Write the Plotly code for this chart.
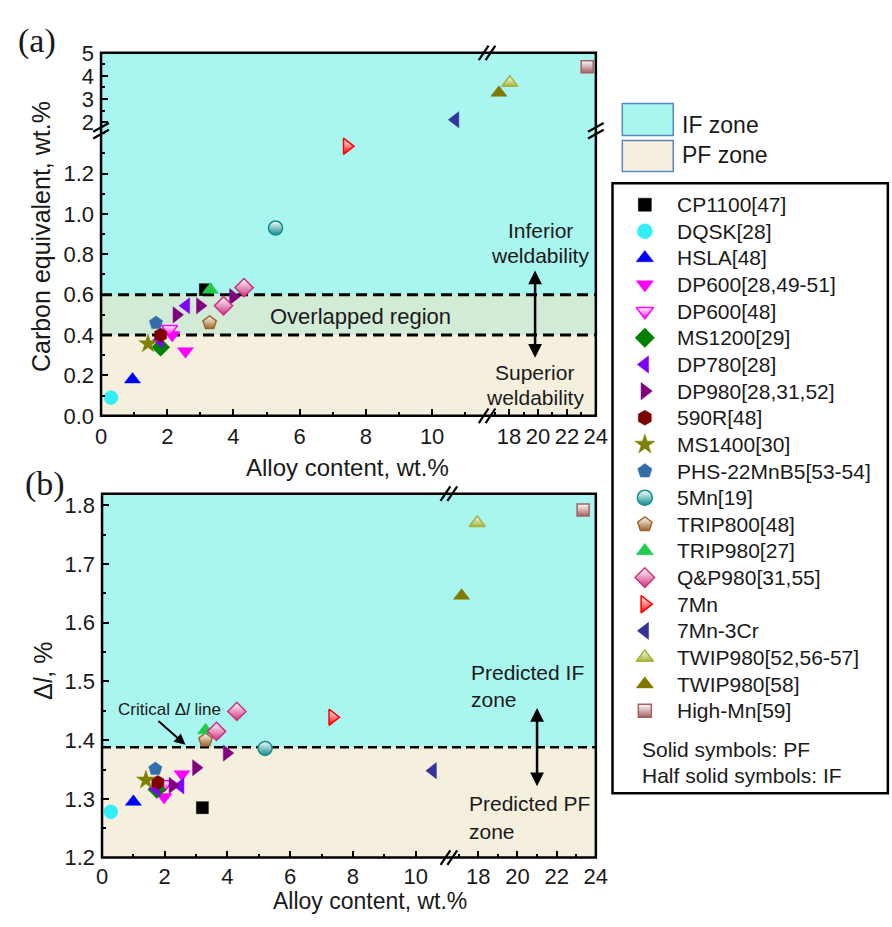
import plotly.graph_objects as go

W, H = 892, 927
FONT = "Liberation Sans, Arial, sans-serif"
SERIF = "Liberation Serif, Times New Roman, serif"
TXT = "#1a1a1a"

# ---------------- data ----------------
series_names = ["CP1100[47]", "DQSK[28]", "HSLA[48]", "DP600[28,49-51]", "DP600[48]",
                "MS1200[29]", "DP780[28]", "DP980[28,31,52]", "590R[48]", "MS1400[30]",
                "PHS-22MnB5[53-54]", "5Mn[19]", "TRIP800[48]", "TRIP980[27]", "Q&P980[31,55]",
                "7Mn", "7Mn-3Cr", "TWIP980[52,56-57]", "TWIP980[58]", "High-Mn[59]"]

# panel (a): alloy content (wt.%) vs carbon equivalent (wt.%)
alloy_a = [[3.15], [0.30], [0.95], [2.15, 2.55], [2.07], [1.80], [1.77, 2.57],
           [2.28, 2.99, 3.99], [1.80], [1.42], [1.66], [5.27], [3.28], [3.30],
           [3.70, 4.32], [7.43], [10.70], [18.05], [17.30], [23.40]]
ce_a = [[0.625], [0.09], [0.18], [0.40, 0.32], [0.43], [0.34], [0.375, 0.545],
        [0.50, 0.545, 0.59], [0.40], [0.357], [0.46], [0.93], [0.46], [0.625],
        [0.545, 0.635], [1.335], [2.10], [3.70], [3.27], [4.40]]

# panel (b): alloy content (wt.%) vs delta l (%)
alloy_b = [[3.20], [0.28], [1.00], [1.98, 2.55], [2.00], [1.75], [1.72, 2.50],
           [2.25, 3.00, 3.98], [1.78], [1.40], [1.70], [5.20], [3.30], [3.30],
           [3.65, 4.30], [7.35], [10.55], [17.95], [17.15], [23.35]]
dl_b = [[1.285], [1.278], [1.295], [1.303, 1.342], [1.325], [1.316], [1.318, 1.322],
        [1.323, 1.353, 1.378], [1.328], [1.332], [1.351], [1.386], [1.400], [1.417],
        [1.415, 1.449], [1.439], [1.348], [1.770], [1.646], [1.792]]

ce_pf_limit = 0.4
ce_if_limit = 0.6
dl_critical = 1.388

x_ticks_low = [0, 2, 4, 6, 8, 10]
x_ticks_high = [18, 20, 22, 24]
ce_ticks_low = [0.0, 0.2, 0.4, 0.6, 0.8, 1.0, 1.2]
ce_ticks_high = [2, 3, 4, 5]
dl_ticks = [1.2, 1.3, 1.4, 1.5, 1.6, 1.7, 1.8]

# ---------------- styles ----------------
symbols = ["square", "circle", "triangle-up", "triangle-down", "triangle-down", "diamond",
           "triangle-left", "triangle-right", "hexagon", "star", "pentagon", "circle",
           "pentagon", "triangle-up", "diamond", "triangle-right", "triangle-left",
           "triangle-up", "triangle-up", "square"]
colors = ["#000000", "#33EEF6", "#0000FF", "#FF00FF", "#FF00FF", "#008000", "#8000FF",
          "#800080", "#800000", "#808000", "#336EAA", "#128C8C", "#A0662A", "#1FCC4A",
          "#CC3380", "#FF0000", "#333399", "#A6B43A", "#807800", "#A66060"]
half = [False, False, False, False, True, False, False, False, False, False, False, True,
        True, False, True, True, False, True, False, True]

IF_COLOR = "#A9F5EF"
PF_COLOR = "#F5F0DE"
OV_COLOR = "#D1EBD6"


def fx(px):
    return px / W


def fy(py):
    return 1 - py / H


def mstyle(i, size):
    c = colors[i]
    s = size - 2 if symbols[i] == "square" else size
    if half[i]:
        return dict(symbol=symbols[i], size=s, color="white",
                    gradient=dict(type="vertical", color=c),
                    line=dict(color=c, width=1.5))
    return dict(symbol=symbols[i], size=s, color=c, line=dict(color=c, width=0.5))


# ---------------- axis geometry ----------------
A_X0, A_XB, A_X1 = 97, 492, 602
A_Y0, A_YB, A_Y1 = 415, 121, 42
B_X0, B_XB, B_X1 = 98, 452, 602
B_Y0, B_Y1 = 869, 495

xa1_range = [0, 11.69]
xa2_range = [16.55, 24]
ya1_range = [0, 1.417]
ya2_range = [1.667, 5]
xb1_range = [0, 11.06]
xb2_range = [16.5, 24]
yb_range = [1.2, 1.82]

fig = go.Figure()

# data traces, panel (a)
for i, name in enumerate(series_names):
    groups = {}
    for x, y in zip(alloy_a[i], ce_a[i]):
        xa = "x" if x <= xa1_range[1] else "x2"
        ya = "y" if y <= ya1_range[1] else "y2"
        groups.setdefault((xa, ya), ([], []))
        groups[(xa, ya)][0].append(x)
        groups[(xa, ya)][1].append(y)
    for (xa, ya), (xs, ys) in groups.items():
        fig.add_trace(go.Scatter(x=xs, y=ys, xaxis=xa, yaxis=ya, mode="markers",
                                 marker=mstyle(i, 14), name=name, showlegend=False))

# data traces, panel (b)
for i, name in enumerate(series_names):
    groups = {}
    for x, y in zip(alloy_b[i], dl_b[i]):
        xa = "x3" if x <= xb1_range[1] else "x4"
        groups.setdefault(xa, ([], []))
        groups[xa][0].append(x)
        groups[xa][1].append(y)
    for xa, (xs, ys) in groups.items():
        fig.add_trace(go.Scatter(x=xs, y=ys, xaxis=xa, yaxis="y3", mode="markers",
                                 marker=mstyle(i, 14), name=name, showlegend=False))

# manual legend (aux axes x5/y5): rows indexed by series order
for i, name in enumerate(series_names):
    fig.add_trace(go.Scatter(x=[33], y=[i], xaxis="x5", yaxis="y5", mode="markers",
                             marker=mstyle(i, 15), name=name, showlegend=False,
                             hoverinfo="skip"))


# ---------------- axes ----------------
def axis(domain, rng, anchor, **kw):
    d = dict(domain=domain, range=rng, anchor=anchor, showline=False, showgrid=False,
             zeroline=False, ticks="inside", ticklen=7, tickwidth=2, tickcolor="black",
             tickfont=dict(size=22, family=FONT, color=TXT),
             minor=dict(ticks="inside", ticklen=4, tickwidth=2, tickcolor="black"))
    minor_dtick = kw.pop("minor_dtick", None)
    if minor_dtick is not None:
        d["minor"]["dtick"] = minor_dtick
        d["minor"]["tick0"] = 0
    d.update(kw)
    return d


layout_axes = dict(
    xaxis=axis([fx(A_X0), fx(A_XB)], xa1_range, "y", tickvals=x_ticks_low, minor_dtick=1,
               ticklabelstandoff=5),
    xaxis2=axis([fx(A_XB), fx(A_X1)], xa2_range, "y", tickvals=x_ticks_high, minor_dtick=1,
                ticklabelstandoff=5),
    yaxis=axis([fy(A_Y0), fy(A_YB)], ya1_range, "x", tickvals=ce_ticks_low,
               tickformat=".1f", minor_dtick=0.1, ticklabelstandoff=6),
    yaxis2=axis([fy(A_YB), fy(A_Y1)], ya2_range, "x", tickvals=ce_ticks_high,
                minor_dtick=0.5, ticklabelstandoff=6),
    xaxis3=axis([fx(B_X0), fx(B_XB)], xb1_range, "y3", tickvals=x_ticks_low, minor_dtick=1,
                ticklabelstandoff=3),
    xaxis4=axis([fx(B_XB), fx(B_X1)], xb2_range, "y3", tickvals=x_ticks_high,
                minor_dtick=1, ticklabelstandoff=3),
    yaxis3=axis([fy(B_Y0), fy(B_Y1)], yb_range, "x3", tickvals=dl_ticks, tickformat=".1f",
                minor_dtick=0.05, ticklabelstandoff=6),
    xaxis5=dict(domain=[fx(619), fx(892)], range=[0, 273], anchor="y5", visible=False),
    yaxis5=dict(domain=[fy(803), fy(176)], range=[22.1, -0.804], anchor="x5",
                visible=False),
)

# ---------------- shapes ----------------
shapes = []
ax0, ax1 = fx(A_X0), fx(A_X1)
bx0, bx1 = fx(B_X0), fx(B_X1)
# panel (a) zones: IF colour underneath the whole frame, then PF / overlap bands
shapes.append(dict(type="rect", xref="paper", yref="paper", x0=ax0, x1=ax1, y0=fy(A_Y0),
                   y1=fy(A_Y1), fillcolor=IF_COLOR, line_width=0, layer="below"))
shapes.append(dict(type="rect", xref="paper", yref="y", x0=ax0, x1=ax1, y0=ya1_range[0],
                   y1=ce_pf_limit, fillcolor=PF_COLOR, line_width=0, layer="below"))
shapes.append(dict(type="rect", xref="paper", yref="y", x0=ax0, x1=ax1, y0=ce_pf_limit,
                   y1=ce_if_limit, fillcolor=OV_COLOR, line_width=0, layer="below"))
for lim in (ce_pf_limit, ce_if_limit):
    shapes.append(dict(type="line", xref="paper", yref="y", x0=ax0, x1=ax1, y0=lim, y1=lim,
                       line=dict(color="black", width=3, dash="11px,6px"), layer="below"))
# panel (b) zones
shapes.append(dict(type="rect", xref="paper", yref="paper", x0=bx0, x1=bx1, y0=fy(B_Y0),
                   y1=fy(B_Y1), fillcolor=IF_COLOR, line_width=0, layer="below"))
shapes.append(dict(type="rect", xref="paper", yref="y3", x0=bx0, x1=bx1, y0=yb_range[0],
                   y1=dl_critical, fillcolor=PF_COLOR, line_width=0, layer="below"))
shapes.append(dict(type="line", xref="paper", yref="y3", x0=bx0, x1=bx1, y0=dl_critical,
                   y1=dl_critical, line=dict(color="black", width=2.5, dash="9px,5px"),
                   layer="below"))
# frames
shapes.append(dict(type="rect", xref="paper", yref="paper", x0=ax0, x1=ax1, y0=fy(A_Y0),
                   y1=fy(A_Y1), line=dict(color="black", width=2.5), layer="above"))
shapes.append(dict(type="rect", xref="paper", yref="paper", x0=bx0, x1=bx1, y0=fy(B_Y0),
                   y1=fy(B_Y1), line=dict(color="black", width=2.5), layer="above"))


def brk(cx, cy, dx, dy, sep_x, sep_y):
    for k in (-1, 1):
        ox, oy = k * sep_x / 2, k * sep_y / 2
        shapes.append(dict(type="line", xref="paper", yref="paper",
                           x0=fx(cx + ox - dx), y0=fy(cy + oy + dy),
                           x1=fx(cx + ox + dx), y1=fy(cy + oy - dy),
                           line=dict(color="black", width=2.2), layer="above"))


# breaks on the x axes: slanted "//"
brk(A_XB - 1, A_Y1, 5, 7.5, 7, 0)
brk(A_XB - 1, A_Y0, 5, 7.5, 7, 0)
brk(B_XB, B_Y1, 5, 7.5, 7, 0)
brk(B_XB, B_Y0, 5, 7.5, 7, 0)
# breaks on the y axes
brk(A_X0, A_YB + 1, 8, 4.5, 0, 7)
brk(A_X1, A_YB + 1, 8, 4.5, 0, 7)

# legend frame and zone swatches
shapes.append(dict(type="rect", xref="paper", yref="paper", x0=fx(619), x1=fx(900),
                   y0=fy(803), y1=fy(176), line=dict(color="black", width=2.5)))
shapes.append(dict(type="rect", xref="paper", yref="paper", x0=fx(629), x1=fx(681),
                   y0=fy(127), y1=fy(94), fillcolor=IF_COLOR,
                   line=dict(color="#5B86C4", width=1.5)))
shapes.append(dict(type="rect", xref="paper", yref="paper", x0=fx(629), x1=fx(681),
                   y0=fy(164), y1=fy(132), fillcolor=PF_COLOR,
                   line=dict(color="#5B86C4", width=1.5)))

# ---------------- annotations ----------------
ann = []


def text(px, py, s, size=22, xanchor="center", family=FONT, angle=0):
    ann.append(dict(x=fx(px), y=fy(py), xref="paper", yref="paper", text=s,
                    showarrow=False, xanchor=xanchor, yanchor="middle", textangle=angle,
                    font=dict(size=size, family=family, color=TXT)))


text(32, 30, "(a)", size=34, family=SERIF)
text(40, 485, "(b)", size=34, family=SERIF)
text(35, 231, "Carbon equivalent, wt.%", size=25, angle=-90)
text(349, 468, "Alloy content, wt.%", size=24)
text(37, 677, "Δ<i>l</i>, %", size=25, angle=-90)
text(372, 914, "Alloy content, wt.%", size=23)
text(362, 313, "Overlapped region", size=22)
text(546, 225, "Inferior", size=21)
text(545, 250, "weldability", size=21)
text(539, 371, "Superior", size=21)
text(540, 396, "weldability", size=21)
text(473, 679, "Predicted IF", size=21, xanchor="left")
text(473, 707, "zone", size=21, xanchor="left")
text(470, 813, "Predicted PF", size=21, xanchor="left")
text(470, 842, "zone", size=21, xanchor="left")
text(167, 717, "Critical Δ<i>l</i> line", size=17)
text(688, 116, "IF zone", size=23, xanchor="left")
text(688, 147, "PF zone", size=23, xanchor="left")
text(647, 758, "Solid symbols: PF", size=21, xanchor="left")
text(647, 785, "Half solid symbols: IF", size=21, xanchor="left")

for i, name in enumerate(series_names):
    ann.append(dict(x=64, y=i, xref="x5", yref="y5", text=name, showarrow=False,
                    xanchor="left", yanchor="middle",
                    font=dict(size=21, family=FONT, color=TXT)))

# arrows
ann.append(dict(x=19.8, y=0.72, xref="x2", yref="y", ax=19.8, ay=0.28, axref="x2",
                ayref="y", text="", showarrow=True, arrowside="end+start", arrowhead=2,
                startarrowhead=2, arrowsize=1.1, startarrowsize=1.1, arrowwidth=2.5,
                arrowcolor="black"))
ann.append(dict(x=21.0, y=1.455, xref="x4", yref="y3", ax=21.0, ay=1.319, axref="x4",
                ayref="y3", text="", showarrow=True, arrowside="end+start", arrowhead=2,
                startarrowhead=2, arrowsize=1.1, startarrowsize=1.1, arrowwidth=2.5,
                arrowcolor="black"))
ann.append(dict(x=2.66, y=1.392, xref="x3", yref="y3", ax=1.75, ay=1.435, axref="x3",
                ayref="y3", text="", showarrow=True, arrowhead=2, arrowsize=1.1,
                arrowwidth=2, arrowcolor="black"))

fig.update_layout(
    width=W, height=H, margin=dict(l=0, r=0, t=0, b=0),
    paper_bgcolor="white", plot_bgcolor="rgba(0,0,0,0)",
    showlegend=False, shapes=shapes, annotations=ann,
    font=dict(family=FONT, color=TXT),
    **layout_axes,
)

fig.write_html(
    "out.html",
    config={"displayModeBar": False},
    post_script="document.body.style.margin='0px';"
                "document.documentElement.style.overflow='hidden';",
)
